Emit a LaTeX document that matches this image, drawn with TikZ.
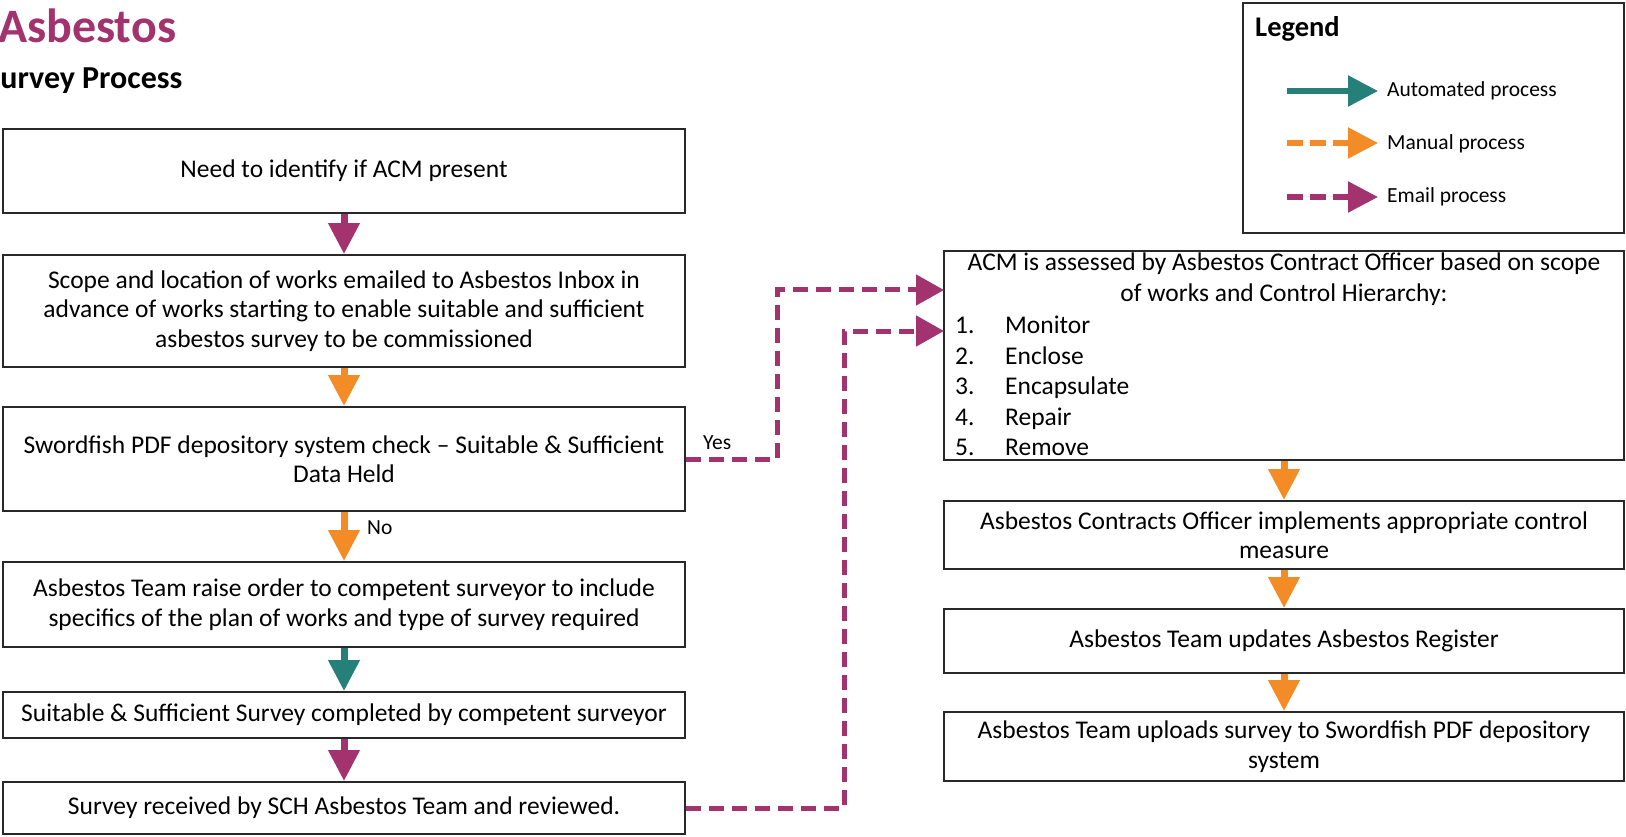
\documentclass[tikz,border=0pt]{standalone}
\usepackage{fontspec}
\setmainfont{Carlito}
\usetikzlibrary{arrows.meta}
\definecolor{emailc}{RGB}{163,51,111}
\definecolor{manualc}{RGB}{243,140,38}
\definecolor{autoc}{RGB}{38,128,122}
\definecolor{boxline}{RGB}{40,40,40}
\newcommand{\myBody}{\fontsize{25.5}{29.5}\selectfont}
\newcommand{\myList}{\fontsize{25.5}{30.5}\selectfont}
\newcommand{\mySmall}{\fontsize{21.5}{24}\selectfont}
\begin{document}
\begin{tikzpicture}[x=1pt,y=-1pt,
  procbox/.style={draw=boxline, line width=1.8pt, fill=white, inner sep=0pt, align=center, font=\myBody},
  leftbox/.style={procbox, minimum width=682pt},
  rightbox/.style={procbox, minimum width=680pt},
  flowarrow/.style={line width=7pt, -{Triangle[length=31pt,width=30pt]}},
  autoarrow/.style={flowarrow, draw=autoc, fill=autoc},
  manualarrow/.style={flowarrow, draw=manualc, fill=manualc},
  emailarrow/.style={flowarrow, draw=emailc, fill=emailc},
  emaillink/.style={draw=emailc, line width=5pt, dash pattern=on 15pt off 8pt, -{Triangle[length=28pt,width=30pt,fill=emailc]}},
  legline/.style={line width=5.5pt, -{Triangle[length=30pt,width=30pt]}},
  lbl/.style={font=\mySmall, inner sep=0pt}
]
\useasboundingbox (0,0) rectangle (1626,837);
\clip (0,0) rectangle (1626,837);

% titles
\node[anchor=base west, inner sep=0pt, text=emailc, font=\fontsize{48}{52}\selectfont\bfseries] (title) at (-2,43) {Asbestos};
\node[anchor=base west, inner sep=0pt, font=\fontsize{32}{36}\selectfont\bfseries] (subtitle) at (-15,89) {Survey Process};

% left column
\node[leftbox, minimum height=84pt] (b1) at (344,171) {Need to identify if ACM present};
\node[leftbox, minimum height=112pt] (b2) at (344,311) {Scope and location of works emailed to Asbestos Inbox in\\advance of works starting to enable suitable and sufficient\\asbestos survey to be commissioned};
\node[leftbox, minimum height=104pt] (b3) at (344,459) {Swordfish PDF depository system check -- Suitable \& Sufficient\\Data Held};
\node[leftbox, minimum height=85pt] (b4) at (344,604.5) {Asbestos Team raise order to competent surveyor to include\\specifics of the plan of works and type of survey required};
\node[leftbox, minimum height=46pt] (b5) at (344,715) {Suitable \& Sufficient Survey completed by competent surveyor};
\node[leftbox, minimum height=52pt] (b6) at (344,808) {Survey received by SCH Asbestos Team and reviewed.};

% right column
\node[rightbox, minimum height=209pt] (r1) at (1284,355.5) {};
\node[align=center, inner sep=0pt, font=\myList] (r1head) at (1284,279) {ACM is assessed by Asbestos Contract Officer based on scope\\of works and Control Hierarchy:};
\node[align=left, inner sep=0pt, font=\myList, anchor=west] (r1list) at (955,386) {\makebox[50pt][l]{1.}Monitor\\\makebox[50pt][l]{2.}Enclose\\\makebox[50pt][l]{3.}Encapsulate\\\makebox[50pt][l]{4.}Repair\\\makebox[50pt][l]{5.}Remove};
\node[rightbox, minimum height=68pt] (r2) at (1284,535) {Asbestos Contracts Officer implements appropriate control\\measure};
\node[rightbox, minimum height=64pt] (r3) at (1284,641) {Asbestos Team updates Asbestos Register};
\node[rightbox, minimum height=69pt] (r4) at (1284,746.5) {Asbestos Team uploads survey to Swordfish PDF depository\\system};

% vertical arrows
\draw[emailarrow] (b1.south) -- (b2.north);
\draw[manualarrow] (b2.south) -- (b3.north);
\draw[manualarrow] (b3.south) -- (b4.north);
\node[lbl, anchor=west] (nolbl) at (367,528) {No};
\draw[autoarrow] (b4.south) -- (b5.north);
\draw[emailarrow] (b5.south) -- (b6.north);
\draw[manualarrow] (r1.south) -- (r2.north);
\draw[manualarrow] (r2.south) -- (r3.north);
\draw[manualarrow] (r3.south) -- (r4.north);

% email connectors
\coordinate (j1) at (777,459);
\coordinate (in1) at (944,290);
\coordinate (j2) at (844,808);
\coordinate (in2) at (944,331);
\draw[emaillink] (b3.east) -- (j1) |- (in1);
\node[lbl, anchor=south west] (yeslbl) at (703,450) {Yes};
\draw[emaillink] (b6.east) -- (j2) |- (in2);

% legend
\node[draw=boxline, line width=1.8pt, minimum width=381pt, minimum height=230pt, inner sep=0pt] (legend) at (1433.5,118) {};
\node[anchor=base west, inner sep=0pt, font=\fontsize{28.5}{32}\selectfont\bfseries] (legtitle) at (1255,37) {Legend};
\node[lbl, anchor=west] (lt1) at (1387,91) {Automated process};
\node[lbl, anchor=west] (lt2) at (1387,144) {Manual process};
\node[lbl, anchor=west] (lt3) at (1387,197) {Email process};
\coordinate (ls1) at (1287,91);
\coordinate (le1) at (1378,91);
\coordinate (ls2) at (1287,143);
\coordinate (le2) at (1378,143);
\coordinate (ls3) at (1287,197);
\coordinate (le3) at (1378,197);
\draw[legline, draw=autoc, fill=autoc] (ls1) -- (le1);
\draw[legline, draw=manualc, fill=manualc, dash pattern=on 16pt off 7pt] (ls2) -- (le2);
\draw[legline, draw=emailc, fill=emailc, dash pattern=on 16pt off 7pt] (ls3) -- (le3);
\end{tikzpicture}
\end{document}
